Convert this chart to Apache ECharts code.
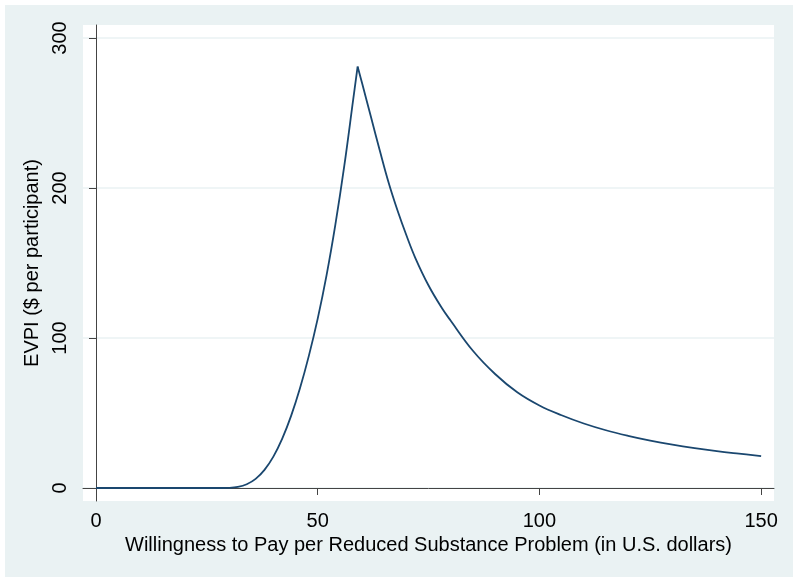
<!DOCTYPE html>
<html>
<head>
<meta charset="utf-8">
<script src="https://cdn.jsdelivr.net/npm/echarts@6/dist/echarts.min.js"></script>
<style>
  html, body { margin: 0; padding: 0; background: #fff; }
  #chart { width: 800px; height: 585px; }
</style>
</head>
<body>
<div id="chart"></div>
<script>
  // Valeurs
  const wtp = [0, 10, 20, 28, 30, 32, 34, 36, 38, 40, 42, 44, 46, 48, 50, 52, 54, 56, 58, 59,
    60, 62, 64, 66, 68, 70, 72, 75, 78, 80, 85, 90, 95, 100, 105, 110, 115, 120, 125, 130, 135, 140, 145, 150];
  const evpi = [0, 0, 0, 0, 0.1, 0.7, 2.5, 6.1, 12.1, 20.9, 32.9, 48.1, 66.5, 88.1, 112.9, 141.9, 175.9, 214.9, 258.9, 281,
    270, 247.5, 225, 203.5, 185, 168.5, 153.5, 135, 120, 111.5, 91.5, 76, 63.8, 55, 48.5, 43, 38.5, 34.8, 31.6, 28.9, 26.6, 24.6, 22.9, 21.3];
  const xTicks = [0, 50, 100, 150];
  const yTicks = [0, 100, 200, 300];

  const font = 'Helvetica, "Liberation Sans", Arial, sans-serif';
  const chart = echarts.init(document.getElementById('chart'));

  // La courbe a un pic anguleux : on la coupe en deux morceaux lissés
  const points = wtp.map((x, i) => [x, evpi[i]]);
  const peak = evpi.indexOf(Math.max(...evpi));
  const rise = points.slice(0, peak + 1);
  const fall = points.slice(peak);

  const lineSeries = data => ({
    type: 'line',
    data: data,
    showSymbol: false,
    smooth: 0.4,
    lineStyle: { color: '#1a476f', width: 1.8 }
  });

  const option = {
    backgroundColor: '#ffffff',
    animation: false,
    graphic: [{
      type: 'rect',
      z: -10,
      silent: true,
      shape: { x: 5, y: 5, width: 788, height: 572 },
      style: { fill: '#eaf2f3' }
    }],
    grid: {
      left: 83, top: 25, right: 26, bottom: 84,
      show: true, backgroundColor: '#ffffff', borderWidth: 0
    },
    xAxis: {
      type: 'value',
      min: -2.93, max: 152.9,
      name: 'Willingness to Pay per Reduced Substance Problem (in U.S. dollars)',
      nameLocation: 'middle',
      nameGap: 30,
      nameTextStyle: { fontFamily: font, fontSize: 20, color: '#000' },
      axisLine: { show: true, lineStyle: { color: '#444', width: 1 } },
      axisTick: { show: true, length: 7, customValues: xTicks, lineStyle: { color: '#444' } },
      axisLabel: { customValues: xTicks, fontFamily: font, fontSize: 20, color: '#000', margin: 10 },
      splitLine: { show: false }
    },
    yAxis: {
      type: 'value',
      min: -8.67, max: 308.7,
      name: 'EVPI ($ per participant)',
      nameLocation: 'middle',
      nameGap: 35,
      nameTextStyle: { fontFamily: font, fontSize: 20, color: '#000' },
      axisLine: { show: true, lineStyle: { color: '#444', width: 1 } },
      axisTick: { show: true, length: 7, customValues: yTicks, lineStyle: { color: '#444' } },
      axisLabel: { customValues: yTicks, rotate: 90, fontFamily: font, fontSize: 20, color: '#000', margin: 13 },
      splitLine: { show: true, lineStyle: { color: '#eaf2f3', width: 1.5 } }
    },
    series: [lineSeries(rise), lineSeries(fall)]
  };

  chart.setOption(option);
</script>
</body>
</html>
